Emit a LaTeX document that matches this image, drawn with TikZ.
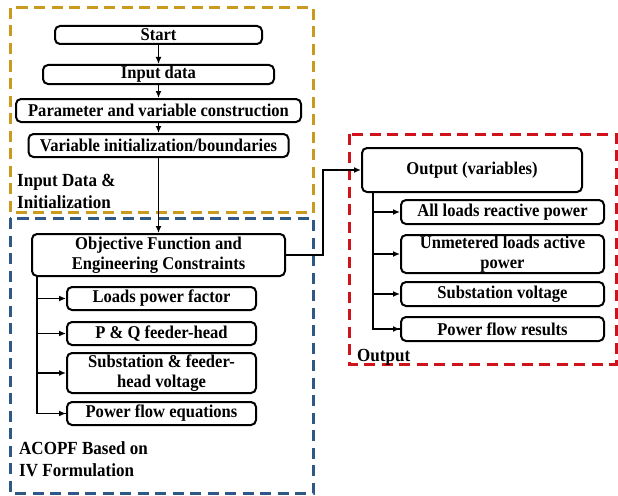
\documentclass[tikz,border=0pt]{standalone}
\usepackage{fontspec}
\setmainfont[FakeStretch=0.92]{Liberation Serif}
\usetikzlibrary{arrows.meta}
\definecolor{goldframe}{RGB}{201,154,30}
\definecolor{blueframe}{RGB}{46,88,134}
\definecolor{redframe}{RGB}{208,18,26}
\tikzset{
  stepbox/.style={draw, rounded corners=5pt, line width=2pt, align=center,
    inner sep=0pt, font=\fontsize{18}{19.5}\selectfont\bfseries},
  frame/.style={line width=3pt, dash pattern=on 11pt off 6.5pt},
  grouplabel/.style={anchor=west, align=left, inner sep=0pt,
    font=\fontsize{18.5}{22}\selectfont\bfseries},
  flow/.style={line width=1.8pt, -{Latex[length=7pt,width=6pt]}},
  link/.style={line width=1.8pt}
}
\begin{document}
\begin{tikzpicture}[x=1pt,y=-1pt]
\useasboundingbox (0,0) rectangle (618,495);

% group frames
\draw[frame, goldframe] (10,8) rectangle (313,212.5);
\draw[frame, blueframe] (10,218) rectangle (313,493);
\draw[frame, redframe] (349,134) rectangle (616,364);

% input and initialization
\node[stepbox, minimum width=207pt, minimum height=18pt] (start) at (158.5,35) {Start};
\node[stepbox, minimum width=231pt, minimum height=19pt] (input) at (158.5,74.5) {Input data};
\node[stepbox, minimum width=285pt, minimum height=23pt] (param) at (158.5,110.5) {Parameter and variable construction};
\node[stepbox, minimum width=260pt, minimum height=23pt] (vinit) at (158.5,145.5) {Variable initialization/boundaries};
\node[grouplabel] (lblin) at (17,191) {Input Data \&\\Initialization};

% ACOPF block
\node[stepbox, minimum width=253pt, minimum height=42pt] (obj) at (158.5,255) {Objective Function and\\Engineering Constraints};
\node[stepbox, minimum width=189pt, minimum height=23pt] (pf) at (161.5,298.5) {Loads power factor};
\node[stepbox, minimum width=189pt, minimum height=23pt] (pq) at (161.5,333.5) {P \& Q feeder-head};
\node[stepbox, minimum width=189pt, minimum height=40pt] (subv) at (161.5,373) {Substation \& feeder-\\head voltage};
\node[stepbox, minimum width=189pt, minimum height=23pt] (pfe) at (161.5,413.5) {Power flow equations};
\node[grouplabel] (lblac) at (19,459) {ACOPF Based on\\IV Formulation};

% output block
\node[stepbox, minimum width=220pt, minimum height=44pt] (out) at (472,170) {Output (variables)};
\node[stepbox, minimum width=203pt, minimum height=24pt] (o1) at (502.5,212) {All loads reactive power};
\node[stepbox, minimum width=203pt, minimum height=38pt] (o2) at (502.5,254) {Unmetered loads active\\power};
\node[stepbox, minimum width=203pt, minimum height=24pt] (o3) at (502.5,294) {Substation voltage};
\node[stepbox, minimum width=203pt, minimum height=24pt] (o4) at (502.5,329) {Power flow results};
\node[grouplabel] (lblout) at (357,357) {Output};

% main flow
\draw[flow] (start) -- (input);
\draw[flow] (input) -- (param);
\draw[flow] (param) -- (vinit);
\draw[flow] (vinit) -- (obj);

% constraint branches
\coordinate (ctrunk) at ([xshift=6pt]obj.south west);
\draw[link] (ctrunk) |- (pfe.west);
\foreach \b in {pf,pq,subv,pfe}
  \draw[flow] (ctrunk |- \b.west) -- (\b.west);

% objective to output
\coordinate (bend) at (323,0);
\draw[flow] (obj.east) -| (bend |- out.west) -- (out.west);

% output branches
\coordinate (otrunk) at (373,0);
\draw[link] (otrunk |- out.south) |- (o4.west);
\foreach \b in {o1,o2,o3,o4}
  \draw[flow] (otrunk |- \b.west) -- (\b.west);
\end{tikzpicture}
\end{document}
